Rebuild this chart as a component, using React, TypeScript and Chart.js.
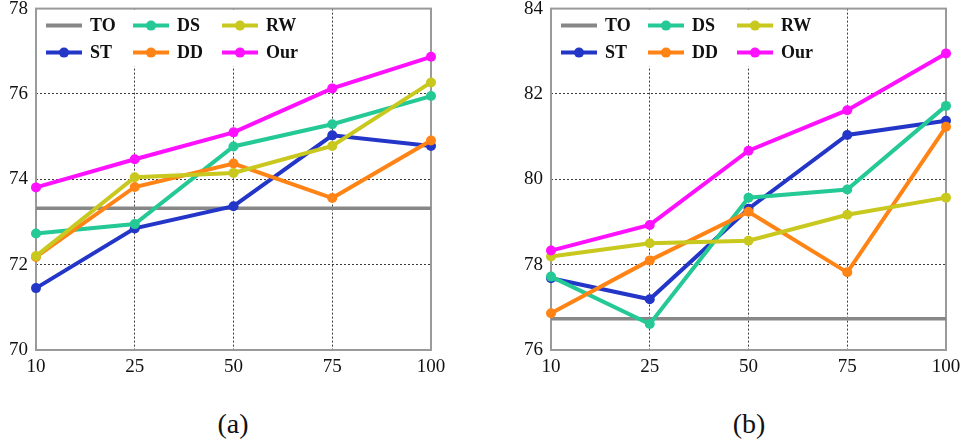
import React, { useEffect, useRef } from "react";
import { Chart, registerables } from "chart.js";

Chart.register(...registerables);

const categories = ["10", "25", "50", "75", "100"];

// Chart (a)
const aTO = [73.32, 73.32, 73.32, 73.32, 73.32];
const aST = [71.45, 72.85, 73.37, 75.03, 74.78];
const aDS = [72.73, 72.95, 74.77, 75.29, 75.95];
const aDD = [72.18, 73.82, 74.37, 73.56, 74.91];
const aRW = [72.2, 74.05, 74.15, 74.78, 76.27];
const aOur = [73.81, 74.47, 75.1, 76.13, 76.87];
const aYTicks = { min: 70, max: 78, step: 2 };

// Chart (b)
const bTO = [76.73, 76.73, 76.73, 76.73, 76.73];
const bST = [77.68, 77.19, 79.31, 81.04, 81.37];
const bDS = [77.72, 76.61, 79.57, 79.76, 81.72];
const bDD = [76.86, 78.1, 79.24, 77.82, 81.23];
const bRW = [78.19, 78.5, 78.56, 79.17, 79.57];
const bOur = [78.33, 78.93, 80.67, 81.62, 82.95];
const bYTicks = { min: 76, max: 84, step: 2 };

const seriesNames = ["TO", "ST", "DS", "DD", "RW", "Our"];
const seriesColors = ["#878787", "#2336c8", "#25c995", "#ff8415", "#c8c81e", "#ff10ff"];
// legend layout order (row-major, 3 per row)
const legendOrder = ["TO", "DS", "RW", "ST", "DD", "Our"];

const SERIF = "'Liberation Serif', 'Times New Roman', serif";

const boxLegendPlugin = {
  id: "boxLegend",
  beforeDatasetsDraw(chart: any) {
    const { ctx, chartArea } = chart;
    const { left, top, right, bottom } = chartArea;
    ctx.save();
    // legend background
    ctx.fillStyle = "#ffffff";
    ctx.fillRect(left + 1, top + 1, 272, 57);
    // legend items
    ctx.font = "bold 18px " + SERIF;
    ctx.textBaseline = "middle";
    const colX = [10, 97, 186];
    const rowY = [17, 44];
    legendOrder.forEach((name, i) => {
      const idx = seriesNames.indexOf(name);
      const color = seriesColors[idx];
      const x0 = left + colX[i % 3];
      const y0 = top + rowY[Math.floor(i / 3)];
      ctx.strokeStyle = color;
      ctx.lineWidth = 4;
      ctx.beginPath();
      ctx.moveTo(x0, y0);
      ctx.lineTo(x0 + 36, y0);
      ctx.stroke();
      if (name !== "TO") {
        ctx.fillStyle = color;
        ctx.beginPath();
        ctx.arc(x0 + 18, y0, 5, 0, Math.PI * 2);
        ctx.fill();
      }
      ctx.fillStyle = "#111111";
      ctx.fillText(name, x0 + 44, y0 + 1);
    });
    // frame
    ctx.strokeStyle = "#9a9a9a";
    ctx.lineWidth = 2;
    ctx.strokeRect(left, top, right - left, bottom - top);
    ctx.restore();
  },
};

function makeConfig(data: number[][], yt: { min: number; max: number; step: number }) {
  return {
    type: "line" as const,
    data: {
      labels: categories,
      datasets: data.map((vals, i) => ({
        label: seriesNames[i],
        data: vals,
        borderColor: seriesColors[i],
        backgroundColor: seriesColors[i],
        borderWidth: i === 0 ? 3.5 : 4,
        pointRadius: i === 0 ? 0 : 5,
        pointHoverRadius: 0,
        pointBorderWidth: 0,
        tension: 0,
        order: i === 0 ? 10 : 6 - i,
      })),
    },
    options: {
      animation: false as const,
      responsive: false,
      maintainAspectRatio: false,
      layout: { padding: { top: 8, right: 29, left: 0, bottom: 0 } },
      plugins: {
        legend: { display: false },
        tooltip: { enabled: false },
        title: { display: false },
      },
      events: [],
      scales: {
        x: {
          type: "category" as const,
          offset: false,
          grid: {
            color: (c: any) => (c.index === 0 || c.index === 4 ? "rgba(0,0,0,0)" : "#3a3a3a"),
            lineWidth: 1,
            drawTicks: false,
          },
          border: { display: false, dash: [2, 2] },
          ticks: {
            color: "#111111",
            padding: 6,
            maxRotation: 0,
            font: { family: SERIF, size: 19 },
          },
          afterFit: (s: any) => {
            s.height = 40;
          },
        },
        y: {
          min: yt.min,
          max: yt.max,
          grid: {
            color: (c: any) =>
              c.tick && (c.tick.value === yt.min || c.tick.value === yt.max) ? "rgba(0,0,0,0)" : "#3a3a3a",
            lineWidth: 1,
            drawTicks: false,
          },
          border: { display: false, dash: [2, 2] },
          ticks: {
            stepSize: yt.step,
            color: "#111111",
            padding: 8,
            font: { family: SERIF, size: 19, lineHeight: 0.8 },
          },
          afterFit: (s: any) => {
            s.width = 36;
          },
        },
      },
    },
    plugins: [boxLegendPlugin],
  };
}

function LineChart({ data, yt, left }: { data: number[][]; yt: any; left: number }) {
  const ref = useRef<HTMLCanvasElement | null>(null);
  useEffect(() => {
    if (!ref.current) return;
    const cfg: any = makeConfig(data, yt);
    const chart = new Chart(ref.current, cfg);
    return () => chart.destroy();
  }, []);
  return (
    <canvas
      ref={ref}
      width={460}
      height={397}
      style={{ position: "absolute", left, top: -7, width: 460, height: 397 }}
    />
  );
}

export default function App() {
  useEffect(() => {
    document.body.style.margin = "0";
  }, []);
  const aData = [aTO, aST, aDS, aDD, aRW, aOur];
  const bData = [bTO, bST, bDS, bDD, bRW, bOur];
  const captionStyle: React.CSSProperties = {
    position: "absolute",
    top: 407,
    width: 80,
    textAlign: "center",
    fontFamily: SERIF,
    fontSize: 28,
    lineHeight: "34px",
    color: "#111",
  };
  return (
    <div style={{ position: "fixed", left: 0, top: 0, width: 963, height: 444, background: "#fff", overflow: "hidden" }}>
      <LineChart data={aData} yt={aYTicks} left={0} />
      <LineChart data={bData} yt={bYTicks} left={515} />
      <div style={{ ...captionStyle, left: 233 - 40 }}>(a)</div>
      <div style={{ ...captionStyle, left: 749 - 40 }}>(b)</div>
    </div>
  );
}
